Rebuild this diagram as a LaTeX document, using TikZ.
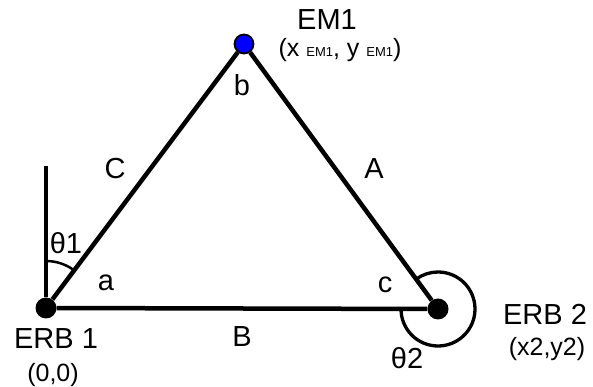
\documentclass[tikz,border=0pt]{standalone}
\usepackage{fontspec}
\setmainfont{Liberation Sans}
\newcommand{\smalltag}[1]{{\fontsize{13}{15}\selectfont #1}}
\begin{document}
\begin{tikzpicture}[x=1pt,y=1pt,
    station/.style={circle,fill=black,inner sep=0pt,minimum size=21pt},
    side/.style={line width=4.5pt},
    lbl/.style={inner sep=0pt,font=\fontsize{29}{34}\selectfont},
    crd/.style={inner sep=0pt,font=\fontsize{25}{30}\selectfont}]
    \useasboundingbox (0,0) rectangle (593,387);
    \node[station] (erbone) at (46,79) {};
    \node[station] (erbtwo) at (438,78) {};
    \node[station,fill=blue,draw=black,line width=1.8pt,minimum size=19pt] (emone) at (244,343) {};
    \coordinate (north) at (46,221);
    % triangle sides and reference direction
    \draw[side] (erbone) -- (north);
    \draw[side] (erbone) -- (emone);
    \draw[side] (emone) -- (erbtwo);
    \draw[side] (erbone) -- (erbtwo);
    % angles
    \draw[line width=2.5pt] ([shift={(90:47)}]erbone.center) arc[start angle=90,end angle=53,radius=47];
    \draw[line width=3.3pt] ([shift={(180:37)}]erbtwo.center) arc[start angle=180,end angle=486,radius=37];
    % labels
    \node[lbl] (emname) at (327,367) {EM1};
    \node[crd] (emcoord) at (340,337) {(x \smalltag{EM1}, y \smalltag{EM1})};
    \node[lbl] (b) at (242,302) {b};
    \node[lbl] (C) at (115,218) {C};
    \node[lbl] (A) at (374,218) {A};
    \node[lbl] (thone) at (66,144) {θ1};
    \node[lbl] (a) at (106,104) {a};
    \node[lbl] (c) at (385,102) {c};
    \node[lbl] (B) at (242,50) {B};
    \node[lbl] (thtwo) at (407,29) {θ2};
    \node[lbl] (erbname1) at (56,48) {ERB 1};
    \node[crd] (erbcoord1) at (53,12) {(0,0)};
    \node[lbl] (erbname2) at (545,73) {ERB 2};
    \node[crd] (erbcoord2) at (547,38) {(x2,y2)};
\end{tikzpicture}
\end{document}
